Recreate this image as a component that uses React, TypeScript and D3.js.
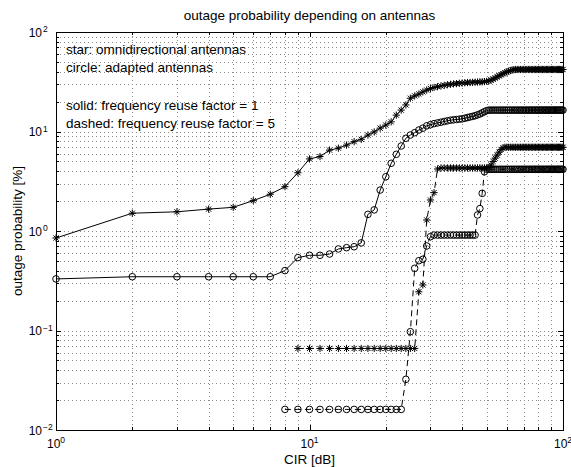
import React, { useEffect, useRef } from 'react';
import * as d3 from 'd3';

const width = 571;
const height = 467;
const margin = { top: 32, right: 8, bottom: 37, left: 56 };

// CIR in dB runs in 1 dB steps from the start value up to 100
const starSolidStart = 1;
const starSolid = [
  0.85, 1.51, 1.56, 1.66, 1.73, 2.02, 2.34, 2.79, 3.85, 5.3,
  5.6, 6.5, 6.8, 7.3, 7.9, 8.35, 9.2, 9.9, 10.8, 11.6,
  12.5, 14.6, 16.4, 18.5, 21.6, 22.8, 23.8, 25, 26.1, 27,
  27.7, 28.2, 28.7, 29.1, 29.5, 29.8, 30.1, 30.3, 30.5, 30.7,
  30.9, 31, 31.1, 31.2, 31.3, 31.4, 31.5, 31.6, 31.7, 31.9,
  32.2, 32.8, 33.6, 34.5, 35.4, 36.3, 37.2, 38.1, 38.9, 39.7,
  40.4, 41, 41.5, 41.8, 42, 42, 42, 42, 42, 42,
  42, 42, 42, 42, 42, 42, 42, 42, 42, 42,
  42, 42, 42, 42, 42, 42, 42, 42, 42, 42,
  42, 42, 42, 42, 42, 42, 42, 42, 42, 42
];

const circleSolidStart = 1;
const circleSolid = [
  0.33, 0.347, 0.347, 0.347, 0.347, 0.347, 0.347, 0.4, 0.54, 0.57,
  0.57, 0.587, 0.66, 0.68, 0.695, 0.76, 1.47, 1.63, 2.58, 3.51,
  4.79, 5.9, 7.15, 8.55, 9.22, 9.73, 10.35, 10.8, 11.4, 11.7,
  12, 12.2, 12.4, 12.6, 12.8, 13, 13.1, 13.2, 13.3, 13.4,
  13.6, 13.8, 14, 14.2, 14.4, 14.7, 15, 15.4, 15.8, 16.2,
  16.4, 16.4, 16.4, 16.4, 16.4, 16.4, 16.4, 16.4, 16.4, 16.4,
  16.4, 16.4, 16.4, 16.4, 16.4, 16.4, 16.4, 16.4, 16.4, 16.4,
  16.4, 16.4, 16.4, 16.4, 16.4, 16.4, 16.4, 16.4, 16.4, 16.4,
  16.4, 16.4, 16.4, 16.4, 16.4, 16.4, 16.4, 16.4, 16.4, 16.4,
  16.4, 16.4, 16.4, 16.4, 16.4, 16.4, 16.4, 16.4, 16.4, 16.4
];

const starDashedStart = 9;
const starDashed = [
  0.066, 0.066, 0.066, 0.066, 0.066, 0.066, 0.066, 0.066, 0.066, 0.066,
  0.066, 0.066, 0.066, 0.066, 0.066, 0.066, 0.066, 0.066,
  0.245, 0.287, 1.29, 2.05, 2.43, 4.2,
  4.3, 4.3, 4.3, 4.3, 4.3, 4.3, 4.3, 4.3, 4.3, 4.3,
  4.3, 4.3, 4.3, 4.3, 4.3, 4.3, 4.3, 4.3,
  4.35, 4.6, 5.0, 5.4, 5.8, 6.2, 6.6, 6.85,
  6.94, 6.94, 6.94, 6.94, 6.94, 6.94, 6.94, 6.94, 6.94, 6.94,
  6.94, 6.94, 6.94, 6.94, 6.94, 6.94, 6.94, 6.94, 6.94, 6.94,
  6.94, 6.94, 6.94, 6.94, 6.94, 6.94, 6.94, 6.94, 6.94, 6.94,
  6.94, 6.94, 6.94, 6.94, 6.94, 6.94, 6.94, 6.94, 6.94, 6.94,
  6.94, 6.94
];

const circleDashedStart = 8;
const circleDashed = [
  0.0161, 0.0161, 0.0161, 0.0161, 0.0161, 0.0161, 0.0161, 0.0161,
  0.0161, 0.0161, 0.0161, 0.0161, 0.0161, 0.0161, 0.0161, 0.0161,
  0.0323, 0.0973, 0.422, 0.503, 0.52, 0.707, 0.877,
  0.91, 0.91, 0.91, 0.91, 0.91, 0.91, 0.91, 0.91, 0.91, 0.91,
  0.91, 0.91, 0.91, 0.91, 0.91,
  1.45, 1.68, 2.39, 3.94,
  4.17, 4.17, 4.17, 4.17, 4.17, 4.17, 4.17, 4.17, 4.17, 4.17,
  4.17, 4.17, 4.17, 4.17, 4.17, 4.17, 4.17, 4.17, 4.17, 4.17,
  4.17, 4.17, 4.17, 4.17, 4.17, 4.17, 4.17, 4.17, 4.17, 4.17,
  4.17, 4.17, 4.17, 4.17, 4.17, 4.17, 4.17, 4.17, 4.17, 4.17,
  4.17, 4.17, 4.17, 4.17, 4.17, 4.17, 4.17, 4.17, 4.17, 4.17,
  4.17
];

const xDomain = [1, 100];
const yDomain = [0.01, 100];

const legendLines = [
  'star: omnidirectional antennas',
  'circle: adapted antennas',
  '',
  'solid: frequency reuse factor = 1',
  'dashed: frequency reuse factor = 5'
];

const titleText = 'outage probability depending on antennas';
const xLabel = 'CIR [dB]';
const yLabel = 'outage probability [%]';

const font = '"Liberation Sans", Arial, Helvetica, sans-serif';

export default function App() {
  const svgRef = useRef(null);

  useEffect(() => {
    const svg = d3.select(svgRef.current);
    svg.selectAll('*').remove();

    const x0 = margin.left;
    const x1 = width - margin.right;
    const y0 = height - margin.bottom;
    const y1 = margin.top;

    const xScale = d3.scaleLog().domain(xDomain).range([x0, x1]);
    const yScale = d3.scaleLog().domain(yDomain).range([y0, y1]);

    svg.append('rect').attr('width', width).attr('height', height).attr('fill', '#fff');

    const isMajor = v => Math.abs(Math.log10(v) - Math.round(Math.log10(v))) < 1e-6;
    const xt = xScale.ticks();
    const yt = yScale.ticks();

    // dotted grid
    const grid = svg.append('g')
      .attr('stroke', '#8a8a8a')
      .attr('stroke-width', 1)
      .attr('stroke-dasharray', '1,3')
      .attr('shape-rendering', 'crispEdges');
    xt.filter(v => v > xDomain[0] * 1.0001 && v < xDomain[1] * 0.9999).forEach(v => {
      const px = Math.round(xScale(v)) + 0.5;
      grid.append('line').attr('x1', px).attr('x2', px).attr('y1', y1).attr('y2', y0);
    });
    yt.filter(v => v > yDomain[0] * 1.0001 && v < yDomain[1] * 0.9999).forEach(v => {
      const py = Math.round(yScale(v)) + 0.5;
      grid.append('line').attr('x1', x0).attr('x2', x1).attr('y1', py).attr('y2', py);
    });

    // ticks on all four sides, pointing in
    const ticks = svg.append('g').attr('stroke', '#000').attr('shape-rendering', 'crispEdges');
    xt.forEach(v => {
      const len = isMajor(v) ? 5 : 3;
      const px = Math.round(xScale(v)) + 0.5;
      ticks.append('line').attr('x1', px).attr('x2', px).attr('y1', y0).attr('y2', y0 - len);
      ticks.append('line').attr('x1', px).attr('x2', px).attr('y1', y1).attr('y2', y1 + len);
    });
    yt.forEach(v => {
      const len = isMajor(v) ? 5 : 3;
      const py = Math.round(yScale(v)) + 0.5;
      ticks.append('line').attr('x1', x0).attr('x2', x0 + len).attr('y1', py).attr('y2', py);
      ticks.append('line').attr('x1', x1).attr('x2', x1 - len).attr('y1', py).attr('y2', py);
    });

    // box
    svg.append('rect')
      .attr('x', x0 + 0.5).attr('y', y1 + 0.5)
      .attr('width', x1 - x0).attr('height', y0 - y1)
      .attr('fill', 'none').attr('stroke', '#000')
      .attr('shape-rendering', 'crispEdges');

    // tick labels
    xt.filter(isMajor).forEach(v => {
      const e = Math.round(Math.log10(v));
      const t = svg.append('text')
        .attr('x', xScale(v))
        .attr('y', y0 + 18)
        .attr('text-anchor', 'middle')
        .attr('font-family', font)
        .attr('font-size', 12);
      t.append('tspan').text('10');
      t.append('tspan').attr('dy', -5).attr('font-size', 8.5).text(e < 0 ? '\u2212' + (-e) : String(e));
    });
    yt.filter(isMajor).forEach(v => {
      const e = Math.round(Math.log10(v));
      const py = yScale(v);
      svg.append('text')
        .attr('x', 42)
        .attr('y', py + 4.5)
        .attr('text-anchor', 'end')
        .attr('font-family', font)
        .attr('font-size', 12)
        .text('10');
      svg.append('text')
        .attr('x', 43)
        .attr('y', py)
        .attr('font-family', font)
        .attr('font-size', 8.5)
        .text(e < 0 ? '\u2212' + (-e) : String(e));
    });

    // series
    const series = [
      { start: starSolidStart, values: starSolid, dash: null, marker: 'star' },
      { start: circleSolidStart, values: circleSolid, dash: null, marker: 'circle' },
      { start: starDashedStart, values: starDashed, dash: '6,4', marker: 'star' },
      { start: circleDashedStart, values: circleDashed, dash: '6,4', marker: 'circle' }
    ];

    const line = d3.line()
      .x(d => xScale(d[0]))
      .y(d => yScale(d[1]));

    const a = 3.6;
    const dg = a * 0.72;
    const starPath = `M${-a},0L${a},0M0,${-a}L0,${a}M${-dg},${-dg}L${dg},${dg}M${-dg},${dg}L${dg},${-dg}`;

    series.forEach(s => {
      const pts = s.values.map((v, i) => [s.start + i, v]);
      svg.append('path')
        .datum(pts)
        .attr('d', line)
        .attr('fill', 'none')
        .attr('stroke', '#000')
        .attr('stroke-width', 1)
        .attr('stroke-dasharray', s.dash);

      const g = svg.append('g').attr('stroke', '#000').attr('stroke-width', 1).attr('fill', 'none');
      pts.forEach(p => {
        if (s.marker === 'circle') {
          g.append('circle').attr('cx', xScale(p[0])).attr('cy', yScale(p[1])).attr('r', 3.3);
        } else {
          g.append('path')
            .attr('transform', `translate(${xScale(p[0])},${yScale(p[1])})`)
            .attr('d', starPath);
        }
      });
    });

    // legend text
    const legendY = [53.5, 72, 90.5, 109.5, 128];
    legendLines.forEach((txt, i) => {
      if (!txt) return;
      svg.append('text')
        .attr('x', 66)
        .attr('y', legendY[i])
        .attr('font-family', font)
        .attr('font-size', 13.5)
        .text(txt);
    });

    // title and axis labels
    svg.append('text')
      .attr('x', (x0 + x1) / 2)
      .attr('y', 20)
      .attr('text-anchor', 'middle')
      .attr('font-family', font)
      .attr('font-size', 13.5)
      .text(titleText);

    svg.append('text')
      .attr('x', (x0 + x1) / 2)
      .attr('y', 464)
      .attr('text-anchor', 'middle')
      .attr('font-family', font)
      .attr('font-size', 13.5)
      .text(xLabel);

    svg.append('text')
      .attr('transform', `translate(21.5, ${(y0 + y1) / 2}) rotate(-90)`)
      .attr('text-anchor', 'middle')
      .attr('font-family', font)
      .attr('font-size', 13.5)
      .text(yLabel);
  }, []);

  return (
    <svg
      ref={svgRef}
      width={width}
      height={height}
      style={{ position: 'absolute', left: 0, top: 0, display: 'block' }}
    />
  );
}
